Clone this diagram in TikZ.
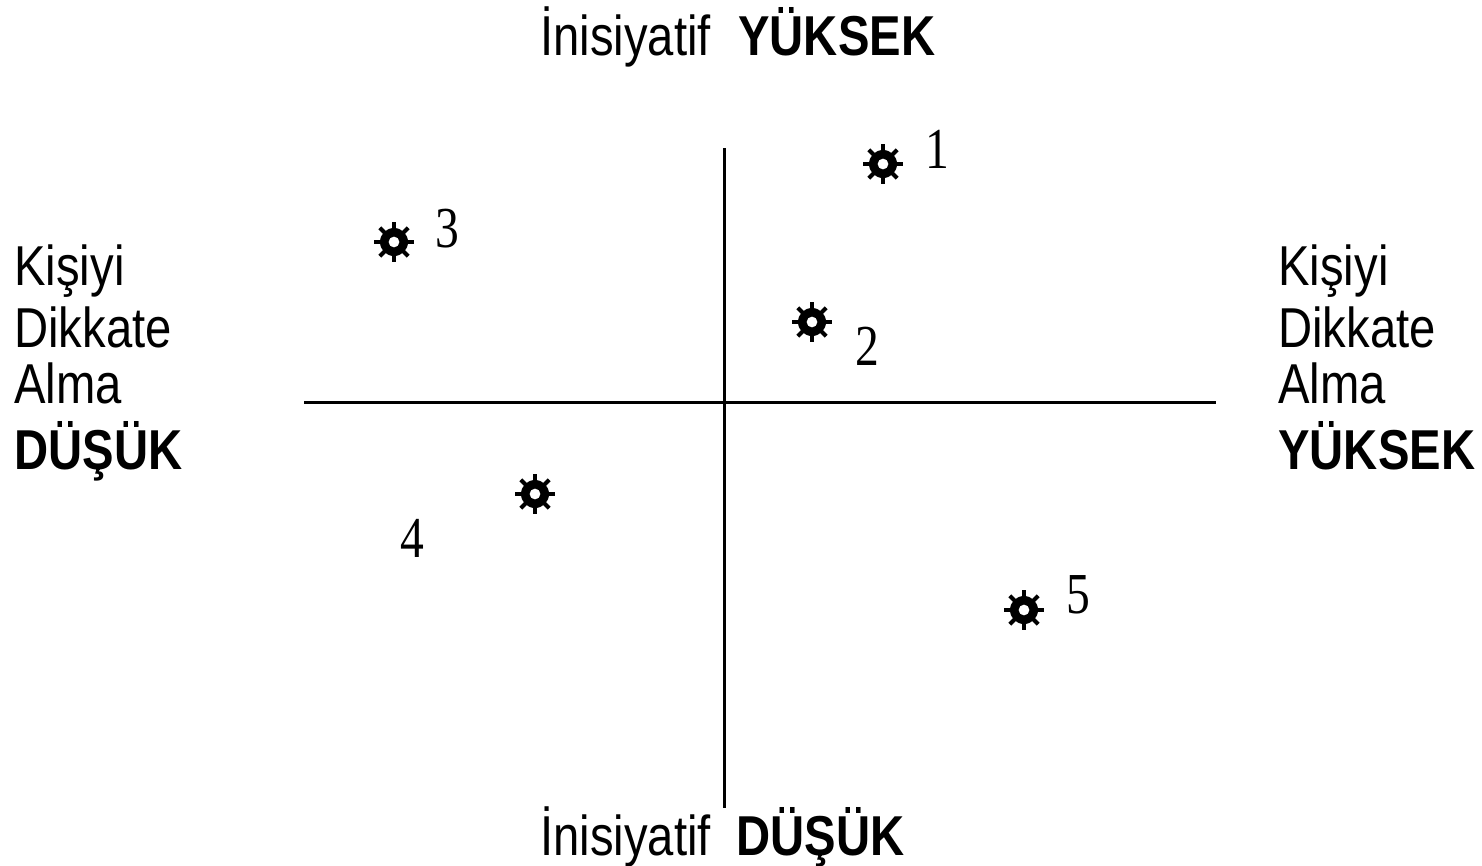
\documentclass[tikz,border=0pt]{standalone}
\usepackage{fontspec}
\usepackage{tikz}
\usetikzlibrary{calc}
\newfontfamily\labfont[FakeStretch=0.84]{Liberation Sans}
\newfontfamily\numfont[FakeStretch=0.82]{Liberation Serif}
\def\sunmark(#1){\fill[even odd rule] (#1) circle (14) (#1) circle (5.5);
	\foreach \a in {0,45,...,315} \draw[line width=0.08cm] ($(#1)+(\a:12)$) -- ($(#1)+(\a:20)$);}

\begin{document}
\begin{tikzpicture}[x=0.02cm, y=-0.02cm,
	lab/.style={inner sep=0, anchor=base west, font=\labfont\fontsize{32}{38}\selectfont},
	num/.style={inner sep=0, anchor=base, font=\numfont\fontsize{33}{38}\selectfont}]
		%%%%% START %%%%%
		\useasboundingbox (0, 0) rectangle (1482, 866);
		
		% axes
		\draw[line width=0.06cm] (724, 148) -- (724, 808);
		\draw[line width=0.06cm] (304, 402) -- (1216, 402);
		
		% top and bottom
		\node[lab] (topa) at (540, 55) {İnisiyatif};
		\node[lab] (topb) at (738, 55) {\bfseries YÜKSEK};
		\node[lab] (bota) at (540, 855) {İnisiyatif};
		\node[lab] (botb) at (736, 855) {\bfseries DÜŞÜK};
		
		% left side
		\node[lab] (la) at (14, 285) {Kişiyi};
		\node[lab] (lb) at (14, 347) {Dikkate};
		\node[lab] (lc) at (14, 403) {Alma};
		\node[lab] (ld) at (14, 469) {\bfseries DÜŞÜK};
		
		% right side
		\node[lab] (ra) at (1278, 285) {Kişiyi};
		\node[lab] (rb) at (1278, 347) {Dikkate};
		\node[lab] (rc) at (1278, 403) {Alma};
		\node[lab] (rd) at (1278, 469) {\bfseries YÜKSEK};
		
		% points
		\sunmark(883, 164);
		\node[num] (n1) at (937, 168) {1};
		\sunmark(812, 322);
		\node[num] (n2) at (867, 365) {2};
		\sunmark(394, 242);
		\node[num] (n3) at (447, 247) {3};
		\sunmark(535, 494);
		\node[num] (n4) at (412, 557) {4};
		\sunmark(1024, 610);
		\node[num] (n5) at (1078, 613) {5};
		
		%%%%% END %%%%%
	\end{tikzpicture}
\end{document}
